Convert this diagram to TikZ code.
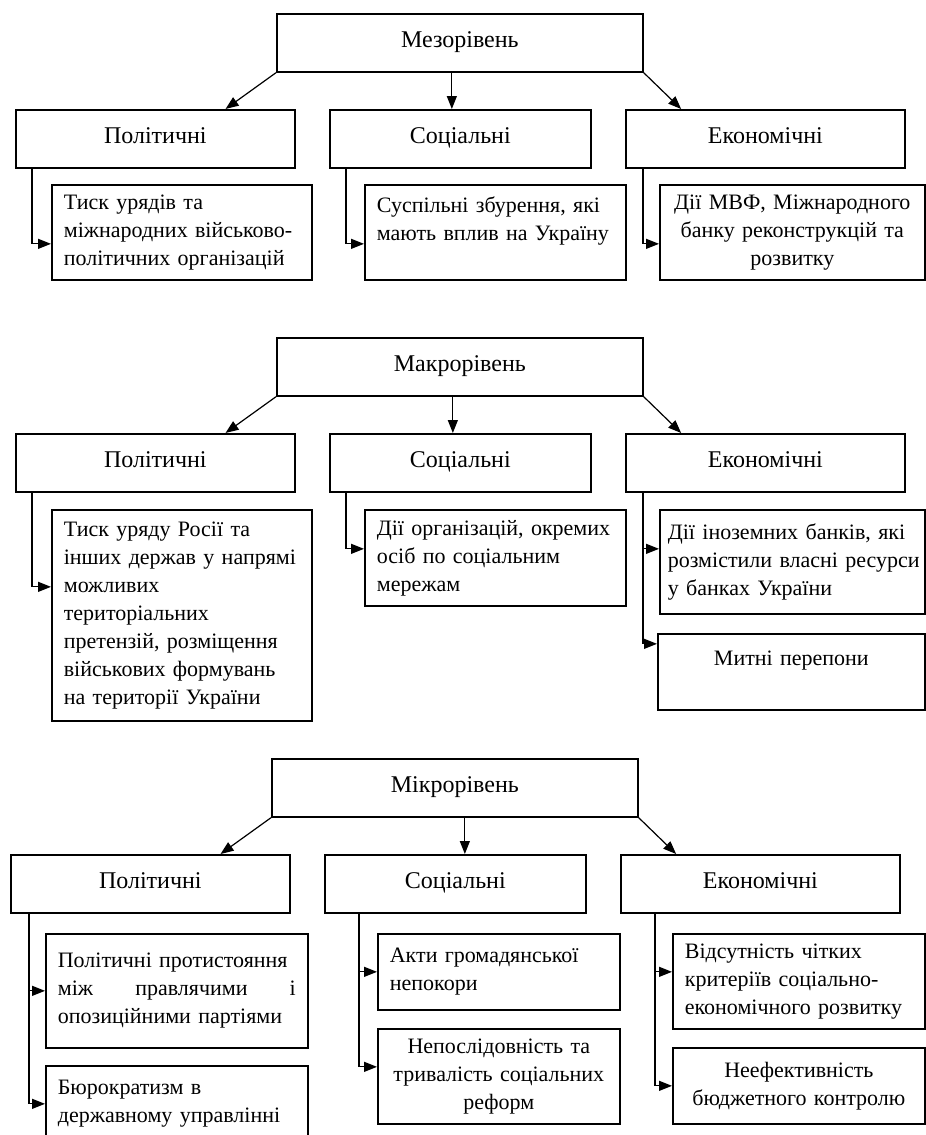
\documentclass[tikz,border=0pt]{standalone}
\usepackage{fontspec}
\setmainfont{Liberation Serif}
\usetikzlibrary{arrows.meta,calc}

\tikzset{
  topbox/.style={draw, line width=1.7pt, anchor=north west, minimum width=366pt, minimum height=58pt, inner sep=0pt, text height=15pt, text depth=5pt, font=\fontsize{24}{28}\selectfont},
  catbox/.style={draw, line width=1.7pt, anchor=north west, minimum width=#1, minimum height=58pt, inner sep=0pt, text height=15pt, text depth=5pt, font=\fontsize{24}{28}\selectfont},
  itembox/.style={draw, line width=1.7pt, anchor=north west, inner xsep=12pt, inner ysep=0pt, text width=#1},
  arr/.style={line width=1.2pt, -{Triangle[length=13pt,width=10pt]}},
}

\begin{document}
\begin{tikzpicture}[x=1pt,y=-1pt, every node/.style={font=\fontsize{22}{28}\selectfont}]
  \clip (0,0) rectangle (926,1135);

  % levels with their three groups
  \foreach \lvl/\title/\y/\dx/\mx in {meso/Мезорівень/13/0/-8, macro/Макрорівень/337/0/-7, micro/Мікрорівень/758/-5/10}{
    \node[topbox] (\lvl) at (276+\dx,\y) {\title};
    \node[catbox=279pt] (\lvl-pol) at (15+\dx,\y+96) {Політичні};
    \node[catbox=261pt] (\lvl-soc) at (329+\dx,\y+96) {Соціальні};
    \node[catbox=279pt] (\lvl-eco) at (625+\dx,\y+96) {Економічні};
    \draw[arr] (\lvl.south west) -- ($(\lvl-pol.north west)!0.75!(\lvl-pol.north east)$);
    \draw[arr] ([xshift=\mx pt]\lvl.south) -- ([xshift=\mx pt]\lvl.south |- \lvl-soc.north);
    \draw[arr] (\lvl.south east) -- ($(\lvl-eco.north west)!0.2!(\lvl-eco.north east)$);
  }

  % mesolevel
  \node[itembox=236pt, minimum height=95pt, align=left] (meso-t1) at (51,184)
    {Тиск урядів та\\міжнародних військово-\\політичних організацій};
  \node[itembox=237pt, minimum height=95pt, align=left] (meso-s1) at (364,184)
    {Суспільні збурення, які\\мають вплив на Україну\\\mbox{}};
  \node[itembox=241pt, minimum height=95pt, align=center] (meso-e1) at (659,184)
    {\mbox{Дії МВФ, Міжнародного}\\банку реконструкцій та\\розвитку};
  \draw[arr] ([xshift=17pt]meso-pol.south west) |- ([yshift=-11.5pt]meso-t1.west);
  \draw[arr] ([xshift=17pt]meso-soc.south west) |- ([yshift=-11.5pt]meso-s1.west);
  \draw[arr] ([xshift=18pt]meso-eco.south west) |- ([yshift=-11.5pt]meso-e1.west);

  % macrolevel
  \node[itembox=236pt, minimum height=211pt, align=left] (macro-t1) at (51,509)
    {Тиск уряду Росії та\\інших держав у напрямі\\можливих\\територіальних\\претензій, розміщення\\військових формувань\\на території України};
  \node[itembox=237pt, minimum height=96pt, align=left] (macro-s1) at (364,509)
    {Дії організацій, окремих\\осіб по соціальним\\мережам};
  \node[itembox=249pt, inner xsep=8pt, minimum height=104pt, align=left] (macro-e1) at (659,509)
    {\mbox{Дії іноземних банків, які}\\\mbox{розмістили власні ресурси}\\у банках України};
  \node[itembox=243pt, minimum height=76pt, align=center] (macro-e2) at (657,633)
    {Митні перепони\\\mbox{}};
  \draw[arr] ([xshift=17pt]macro-pol.south west) |- ([yshift=28.5pt]macro-t1.west);
  \draw[arr] ([xshift=17pt]macro-soc.south west) |- ([yshift=9pt]macro-s1.west);
  \draw[arr] ([xshift=18pt]macro-eco.south west) |- ([yshift=13pt]macro-e1.west);
  \draw[arr] ([xshift=18pt]macro-eco.south west) |- ([yshift=28pt]macro-e2.west);

  % microlevel
  \node[itembox=238pt, minimum height=114pt, align=left] (micro-t1) at (45,933)
    {Політичні протистояння\\між\hfill правлячими\hfill і\\опозиційними партіями};
  \node[itembox=238pt, minimum height=76pt, align=left] (micro-t2) at (45,1065)
    {Бюрократизм в\\державному управлінні};
  \node[itembox=218pt, minimum height=76pt, align=left] (micro-s1) at (377,933)
    {Акти громадянської\\непокори};
  \node[itembox=218pt, minimum height=95pt, align=center] (micro-s2) at (377,1028)
    {Непослідовність та\\тривалість соціальних\\реформ};
  \node[itembox=228pt, minimum height=95pt, align=left] (micro-e1) at (672,933)
    {Відсутність чітких\\критеріїв соціально-\\\mbox{економічного розвитку}};
  \node[itembox=228pt, minimum height=76pt, align=center] (micro-e2) at (672,1047)
    {Неефективність\\бюджетного контролю};
  \draw[arr] ([xshift=19pt]micro-pol.south west) |- (micro-t1.west);
  \draw[arr] ([xshift=19pt]micro-pol.south west) |- (micro-t2.west);
  \draw[arr] ([xshift=35pt]micro-soc.south west) |- (micro-s1.west);
  \draw[arr] ([xshift=35pt]micro-soc.south west) |- ([yshift=9.5pt]micro-s2.west);
  \draw[arr] ([xshift=35pt]micro-eco.south west) |- ([yshift=9.5pt]micro-e1.west);
  \draw[arr] ([xshift=35pt]micro-eco.south west) |- (micro-e2.west);
\end{tikzpicture}
\end{document}
